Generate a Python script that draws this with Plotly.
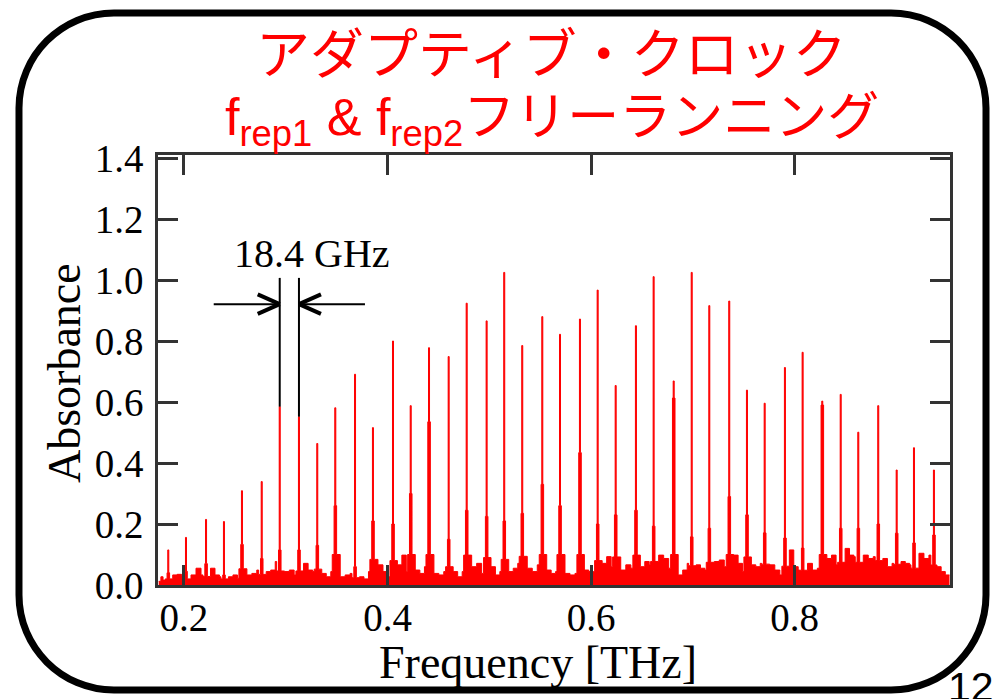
import plotly.graph_objects as go

# ---------------- data ----------------
peak_freq = [0.1846, 0.2020, 0.2217, 0.2393, 0.2570, 0.2764, 0.2941, 0.3130,
             0.3310, 0.3487, 0.3681, 0.3857, 0.4054, 0.4228, 0.4408, 0.4601,
             0.4778, 0.4974, 0.5147, 0.5324, 0.5521, 0.5695, 0.5891, 0.6065,
             0.6242, 0.6441, 0.6615, 0.6812, 0.6989, 0.7162, 0.7358, 0.7532,
             0.7706, 0.7905, 0.8079, 0.8272, 0.8453, 0.8626, 0.8822, 0.9003,
             0.9173, 0.9369]
peak_height = [0.115, 0.156, 0.215, 0.208, 0.309, 0.339, 0.585, 0.552,
               0.464, 0.581, 0.691, 0.516, 0.800, 0.588, 0.778, 0.749,
               0.924, 0.866, 1.025, 0.785, 0.880, 0.822, 0.872, 0.967,
               0.654, 0.850, 1.011, 0.669, 1.025, 0.916, 0.931, 0.639,
               0.596, 0.713, 0.763, 0.603, 0.625, 0.501, 0.588, 0.377,
               0.450, 0.377]
peak_shoulder = [0.040, 0.045, 0.070, 0.033, 0.133, 0.087, 0.115, 0.115,
                 0.130, 0.260, 0.060, 0.210, 0.200, 0.300, 0.535, 0.150,
                 0.245, 0.225, 0.210, 0.235, 0.330, 0.260, 0.434, 0.200,
                 0.230, 0.245, 0.193, 0.613, 0.158, 0.186, 0.290, 0.230,
                 0.171, 0.154, 0.121, 0.590, 0.186, 0.186, 0.200, 0.170,
                 0.138, 0.164]
lead_floor = [0.012, 0.027, 0.016]
gap_floor = [0.033, 0.035, 0.030,  0.033, 0.055, 0.033,  0.055, 0.033, 0.027,
             0.027, 0.033, 0.022,  0.033, 0.038, 0.049,  0.044, 0.049, 0.077,
             0.044, 0.049, 0.033,  0.071, 0.049, 0.044,  0.038, 0.027, 0.044,
             0.027, 0.033, 0.038,  0.027, 0.020, 0.044,  0.066, 0.044, 0.027,
             0.066, 0.098, 0.044,  0.049, 0.038, 0.060,  0.038, 0.033, 0.044,
             0.044, 0.027, 0.044,  0.060, 0.071, 0.038,  0.060, 0.033, 0.044,
             0.044, 0.055, 0.071,  0.055, 0.044, 0.066,  0.049, 0.038, 0.044,
             0.038, 0.033, 0.038,  0.049, 0.044, 0.044,  0.071, 0.093, 0.060,
             0.049, 0.066, 0.055,  0.060, 0.077, 0.066,  0.098, 0.087, 0.055,
             0.033, 0.049, 0.071,  0.066, 0.055, 0.049,  0.077, 0.082, 0.060,
             0.098, 0.071, 0.044,  0.066, 0.060, 0.071,  0.066, 0.049, 0.033,
             0.115, 0.060, 0.049,  0.071, 0.049, 0.055,  0.087, 0.098, 0.066,
             0.120, 0.098, 0.093,  0.098, 0.087, 0.093,  0.087, 0.060, 0.071,
             0.077, 0.071, 0.066,  0.104, 0.087, 0.098]
tail_floor = [0.060, 0.044, 0.033]
spec_start, spec_end = 0.1752, 0.9522

x_ticks = [0.2, 0.4, 0.6, 0.8]
x_tick_text = ["0.2", "0.4", "0.6", "0.8"]
y_ticks = [0.0, 0.2, 0.4, 0.6, 0.8, 1.0, 1.2, 1.4]
y_tick_text = ["0.0", "0.2", "0.4", "0.6", "0.8", "1.0", "1.2", "1.4"]
spacing_label = "18.4 GHz"
title_line1 = "アダプティブ・クロック"
title_line2 = "f<sub>rep1</sub> & f<sub>rep2</sub>フリーランニング"
x_title = "Frequency [THz]"
y_title = "Absorbance"
page_number = "12"

# ---------------- layout geometry ----------------
W, H = 1002, 699
ML, MR, MT, MB = 158, 52, 155, 114
x_range = [0.1745, 0.9527]
y_range = [0.0, 1.41]
plot_w = W - ML - MR
plot_h = H - MT - MB
px_per_x = plot_w / (x_range[1] - x_range[0])
px_per_y = plot_h / (y_range[1] - y_range[0])


def paper_x(px):
    return (px - ML) / plot_w


def paper_y(py):
    return (H - MB - py) / plot_h


def data_x(px):
    return x_range[0] + (px - ML) / px_per_x


# ---------------- build the spectrum trace ----------------
xs, ys = [], []
first = peak_freq[0] - 0.003
xs.append(spec_start)
ys.append(lead_floor[0])
for k, v in enumerate(lead_floor[1:], start=1):
    xs.append(spec_start + (first - spec_start) * k / len(lead_floor))
    ys.append(v)

n = len(peak_freq)
for i in range(n):
    f, h, s = peak_freq[i], peak_height[i], peak_shoulder[i]
    taper = min(s * 0.4, 0.1)
    xs += [f - 0.0030, f - 0.0012, f - 0.0005, f + 0.0005, f + 0.0013]
    ys += [max(taper, 0.02), s, h, s, max(taper, 0.02)]
    if i < n - 1:
        g = peak_freq[i + 1] - f
        for k in range(3):
            xs.append(f + g * (k + 1) / 4)
            ys.append(gap_floor[3 * i + k])
last = peak_freq[-1] + 0.003
for k, v in enumerate(tail_floor):
    xs.append(last + (spec_end - last) * k / len(tail_floor))
    ys.append(v)
xs.append(spec_end)
ys.append(tail_floor[-1])

fig = go.Figure()
fig.add_trace(go.Scatter(
    x=xs, y=ys, mode="lines", line=dict(color="#ff0000", width=1, shape="hv"),
    fill="tozeroy", fillcolor="#ff0000", hoverinfo="skip", showlegend=False))

# ---------------- spacing annotation (18.4 GHz) ----------------
fa, fb = peak_freq[6], peak_freq[7]
ha, hb = peak_height[6], peak_height[7]
line_top = 1.007
arrow_y = 0.921
shaft_len = 66 / px_per_x
head_dx = 22 / px_per_x
head_dy = 9.7 / px_per_y
shapes = []
shapes.append(dict(type="line", xref="x", yref="y", x0=fa, x1=fa, y0=ha, y1=line_top,
                   line=dict(color="black", width=2)))
shapes.append(dict(type="line", xref="x", yref="y", x0=fb, x1=fb, y0=hb, y1=line_top,
                   line=dict(color="black", width=2)))
# left arrow (points right toward fa)
shapes.append(dict(type="line", xref="x", yref="y", x0=fa - shaft_len, x1=fa, y0=arrow_y, y1=arrow_y,
                   line=dict(color="black", width=2)))
for sgn in (1, -1):
    shapes.append(dict(type="line", xref="x", yref="y", x0=fa - head_dx, x1=fa,
                       y0=arrow_y + sgn * head_dy, y1=arrow_y, line=dict(color="black", width=4)))
# right arrow (points left toward fb)
shapes.append(dict(type="line", xref="x", yref="y", x0=fb, x1=fb + shaft_len, y0=arrow_y, y1=arrow_y,
                   line=dict(color="black", width=2)))
for sgn in (1, -1):
    shapes.append(dict(type="line", xref="x", yref="y", x0=fb + head_dx, x1=fb,
                       y0=arrow_y + sgn * head_dy, y1=arrow_y, line=dict(color="black", width=4)))

# ---------------- rounded frame ----------------
L, T, R, B, rad = 19, 13, 986, 690, 95
kk = 0.5523 * rad


def P(px, py):
    return f"{paper_x(px):.5f},{paper_y(py):.5f}"


path = (f"M {P(L + rad, T)} L {P(R - rad, T)} "
        f"C {P(R - rad + kk, T)} {P(R, T + rad - kk)} {P(R, T + rad)} "
        f"L {P(R, B - rad)} "
        f"C {P(R, B - rad + kk)} {P(R - rad + kk, B)} {P(R - rad, B)} "
        f"L {P(L + rad, B)} "
        f"C {P(L + rad - kk, B)} {P(L, B - rad + kk)} {P(L, B - rad)} "
        f"L {P(L, T + rad)} "
        f"C {P(L, T + rad - kk)} {P(L + rad - kk, T)} {P(L + rad, T)} Z")
shapes.append(dict(type="path", xref="paper", yref="paper", path=path,
                   line=dict(color="black", width=7)))

serif = "Liberation Serif, Times New Roman, serif"
sans_jp = "Liberation Sans, Noto Sans CJK JP, sans-serif"
annotations = [
    dict(text=title_line1, xref="paper", yref="paper", x=paper_x(551), y=paper_y(55),
         xanchor="center", yanchor="middle", showarrow=False,
         font=dict(family=sans_jp, size=54, color="#ff0000")),
    dict(text=title_line2, xref="paper", yref="paper", x=paper_x(552), y=paper_y(121),
         xanchor="center", yanchor="middle", showarrow=False,
         font=dict(family=sans_jp, size=52, color="#ff0000")),
    dict(text=spacing_label, xref="x", yref="y", x=data_x(312),
         y=1.086, xanchor="center", yanchor="middle", showarrow=False,
         font=dict(family=serif, size=40, color="black")),
    dict(text=x_title, xref="paper", yref="paper", x=paper_x(538), y=paper_y(662),
         xanchor="center", yanchor="middle", showarrow=False,
         font=dict(family=serif, size=46, color="black")),
    dict(text=y_title, xref="paper", yref="paper", x=paper_x(64), y=paper_y(373),
         xanchor="center", yanchor="middle", showarrow=False, textangle=-90,
         font=dict(family=serif, size=46, color="black")),
    dict(text=page_number, xref="paper", yref="paper", x=paper_x(946), y=paper_y(662),
         xanchor="left", yanchor="top", showarrow=False,
         font=dict(family="Liberation Sans, Arial, sans-serif", size=41, color="black")),
]

axis_common = dict(showgrid=False, zeroline=False, showline=True, linecolor="#333333",
                   linewidth=2.5, mirror="ticks", ticks="inside", ticklen=20,
                   tickwidth=2.5, tickcolor="#333333",
                   tickfont=dict(family=serif, size=39, color="black"))

fig.update_layout(
    width=W, height=H, autosize=False,
    margin=dict(l=ML, r=MR, t=MT, b=MB, pad=0),
    paper_bgcolor="white", plot_bgcolor="white",
    xaxis=dict(range=x_range, tickvals=x_ticks, ticktext=x_tick_text,
               ticklabelstandoff=-4, **axis_common),
    yaxis=dict(range=y_range, tickvals=y_ticks, ticktext=y_tick_text,
               ticklabelstandoff=4, **axis_common),
    shapes=shapes, annotations=annotations, showlegend=False,
)

fig.write_html("out.html")
